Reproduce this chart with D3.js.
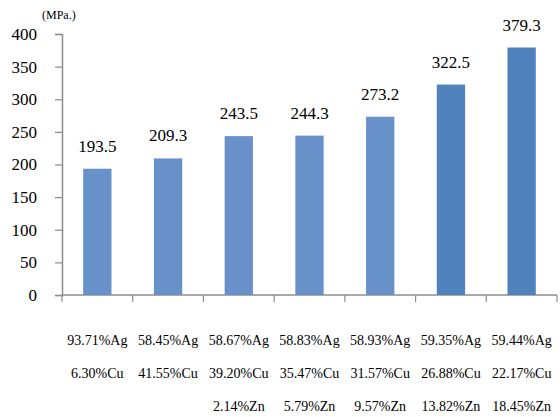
<!DOCTYPE html>
<html><head><meta charset="utf-8">
<script src="https://cdn.jsdelivr.net/npm/d3@7"></script>
<style>body{margin:0;background:#fff}svg{display:block}</style>
</head><body>
<svg id="c" width="560" height="417"></svg>
<script>
const line1 = ["93.71%Ag","58.45%Ag","58.67%Ag","58.83%Ag","58.93%Ag","59.35%Ag","59.44%Ag"];
const line2 = ["6.30%Cu","41.55%Cu","39.20%Cu","35.47%Cu","31.57%Cu","26.88%Cu","22.17%Cu"];
const line3 = ["","","2.14%Zn","5.79%Zn","9.57%Zn","13.82%Zn","18.45%Zn"];
const values = [193.5,209.3,243.5,244.3,273.2,322.5,379.3];
const yTicks = [0,50,100,150,200,250,300,350,400];
const unit = "(MPa.)";

const FONT = "'Liberation Serif', 'Times New Roman', Times, serif";
const svg = d3.select("#c").style("font-family", FONT);
const x0 = 62, x1 = 557, yTop = 34, yBot = 295;
const idx = values.map((d,i)=>i);
const x = d3.scaleBand().domain(idx).range([x0,x1]).paddingInner(0.6).paddingOuter(0.3);
const xb = d3.scaleBand().domain(idx).range([x0,x1]);
const y = d3.scaleLinear().domain([0,400]).range([yBot,yTop]);
const axisColor = "#8c8c8c";

// y axis
const ya = svg.append("g").attr("transform",`translate(${x0},0)`)
  .call(d3.axisLeft(y).tickValues(yTicks).tickSize(7).tickPadding(18));
ya.attr("font-family", null).style("font-family", FONT);
ya.select(".domain").attr("stroke",axisColor).attr("stroke-width",1.5);
ya.selectAll(".tick line").attr("stroke",axisColor).attr("stroke-width",1.2);
ya.selectAll(".tick text").attr("font-size",17).style("font-family",FONT).attr("fill","#000");

// x axis
const xa = svg.append("g").attr("transform",`translate(0,${yBot})`);
xa.append("line").attr("x1",x0).attr("x2",x1).attr("stroke",axisColor).attr("stroke-width",1.5);
xa.selectAll("line.t").data(idx.concat([idx.length])).join("line").attr("class","t")
  .attr("x1",i=>i<idx.length?xb(i):x1).attr("x2",i=>i<idx.length?xb(i):x1)
  .attr("y1",0).attr("y2",7).attr("stroke",axisColor).attr("stroke-width",1.2);

// bars
svg.selectAll("rect.bar").data(values).join("rect").attr("class","bar")
  .attr("x",(d,i)=>x(i)).attr("width",x.bandwidth())
  .attr("y",d=>y(d)).attr("height",d=>yBot-y(d))
  .attr("fill",(d,i)=>i<5?"#6791c8":"#4f81bd");

// value labels
svg.selectAll("text.val").data(values).join("text").attr("class","val")
  .attr("x",(d,i)=>x(i)+x.bandwidth()/2).attr("y",d=>y(d)-17)
  .attr("text-anchor","middle").attr("font-size",17).style("font-family",FONT).text(d=>d.toFixed(1));

// category labels
[[line1,345],[line2,378],[line3,411]].forEach(([arr,yy])=>{
  svg.append("g").selectAll("text").data(arr).join("text")
    .attr("x",(d,i)=>xb(i)+xb.bandwidth()/2).attr("y",yy)
    .attr("text-anchor","middle").attr("font-size",14).style("font-family",FONT).text(d=>d);
});

svg.append("text").attr("x",42).attr("y",19).attr("font-size",12).style("font-family",FONT).text(unit);
</script>
</body></html>
